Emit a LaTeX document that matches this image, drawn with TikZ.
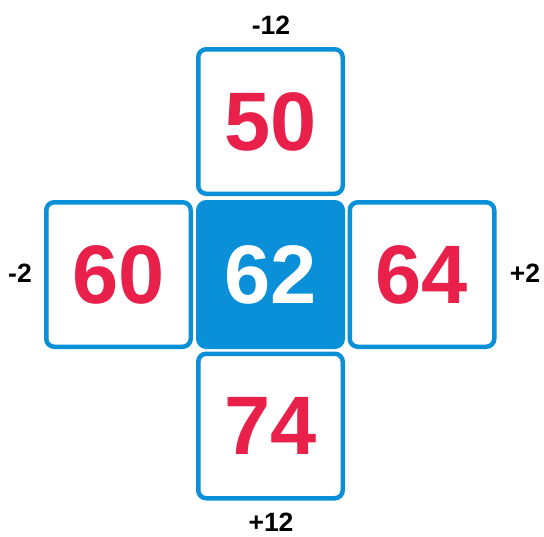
\documentclass[tikz,border=0pt]{standalone}
\usepackage{fontspec}
\setmainfont{Liberation Sans}
\definecolor{boxblue}{HTML}{0A90D8}
\definecolor{numred}{HTML}{E8204A}
\begin{document}
\begin{tikzpicture}[x=1pt,y=-1pt,
  cell/.style={draw=boxblue,line width=4.5pt,rounded corners=8pt,minimum width=144.5pt,minimum height=144.5pt,inner sep=0pt,fill=white,text=numred,font=\fontsize{83}{83}\selectfont\bfseries},
  centercell/.style={cell,fill=boxblue,text=white},
  lbl/.style={font=\fontsize{26.5}{26.5}\selectfont\bfseries,inner sep=0pt}]
\useasboundingbox (0,0) rectangle (544,536);
\node[cell] (top) at (270.5,121.5) {50};
\node[cell] (left) at (118.5,274.5) {60};
\node[centercell] (mid) at (270.5,274.5) {62};
\node[cell] (right) at (422,274.5) {64};
\node[cell] (bot) at (270.5,426) {74};
\node[lbl] (lt) at (271,25) {-12};
\node[lbl] (ll) at (20,273) {-2};
\node[lbl] (lr) at (525,273) {+2};
\node[lbl] (lb) at (271,522) {+12};
\end{tikzpicture}
\end{document}
